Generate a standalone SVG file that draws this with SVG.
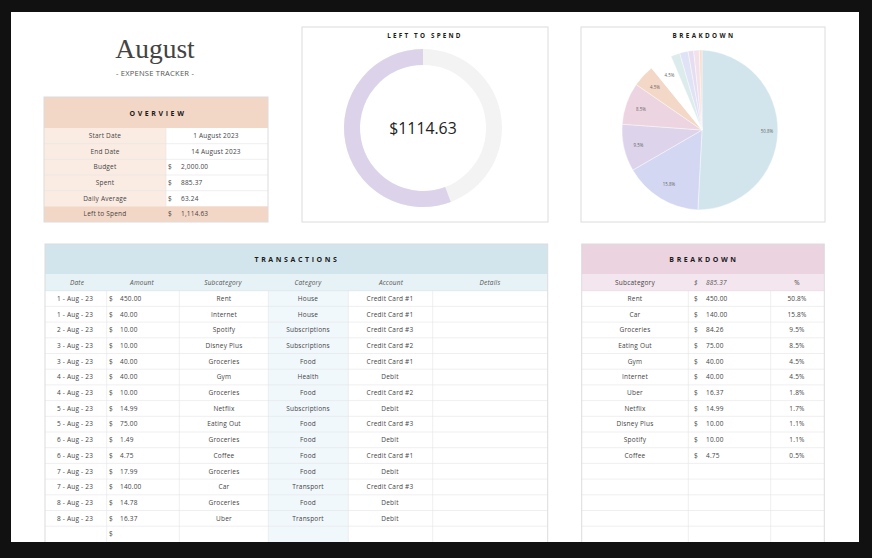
<svg xmlns="http://www.w3.org/2000/svg" width="872" height="558" viewBox="0 0 872 558">
<style>
.t{font-family:"Open Sans","Noto Sans",sans-serif;font-size:6.5px;letter-spacing:0.2px;fill:#444}
.c{text-anchor:middle}
.i{font-style:italic;fill:#555}
.h{font-family:"Open Sans","Noto Sans",sans-serif;font-weight:bold;font-size:7px;letter-spacing:2.6px;fill:#1a1a1a;text-anchor:middle}
.g{stroke:#e4e4e4;stroke-width:0.6;fill:none}
.b{fill:none;stroke:#dcdcdc;stroke-width:1}
.p{font-family:"Open Sans","Noto Sans",sans-serif;font-size:4.4px;fill:#666;text-anchor:middle}
</style>
<rect x="0" y="0" width="872" height="558" fill="#111"/>
<rect x="11" y="12" width="848" height="530" fill="#fff"/>

<g id="title">
<text x="155" y="58" text-anchor="middle" style="font-family:'Liberation Serif','DejaVu Serif',serif;font-size:27.5px;fill:#444">August</text>
<text x="155" y="76" text-anchor="middle" class="t" style="font-size:7.6px;fill:#555">- EXPENSE TRACKER -</text>
</g>

<g id="overview">
<rect x="44" y="97" width="224" height="31" fill="#f3d7c6"/>
<rect x="44" y="128" width="122" height="78.3" fill="#fbece3"/>
<rect x="166" y="128" width="102" height="78.3" fill="#fff"/>
<rect x="44" y="206.3" width="224" height="15.7" fill="#f3d7c6"/>
<g class="g">
<path d="M44 143.7H268M44 159.3H268M44 175H268M44 190.7H268M166 128V206.3"/>
</g>
<rect x="44" y="97" width="224" height="125" class="b"/>
<text x="158" y="115.5" class="h">OVERVIEW</text>
<g class="t">
<text x="105" y="138" class="c">Start Date</text>
<text x="216" y="138" class="c">1 August 2023</text>
<text x="105" y="153.7" class="c">End Date</text>
<text x="216" y="153.7" class="c">14 August 2023</text>
<text x="105" y="169.4" class="c">Budget</text>
<text x="168" y="169.4">$</text><text x="181" y="169.4">2,000.00</text>
<text x="105" y="185" class="c">Spent</text>
<text x="168" y="185">$</text><text x="181" y="185">885.37</text>
<text x="105" y="200.7" class="c">Daily Average</text>
<text x="168" y="200.7">$</text><text x="181" y="200.7">63.24</text>
<text x="105" y="216.4" class="c">Left to Spend</text>
<text x="168" y="216.4">$</text><text x="181" y="216.4">1,114.63</text>
</g>
</g>

<g id="left-to-spend">
<rect x="302" y="27" width="246" height="195" class="b" fill="#fff"/>
<text x="425" y="38" class="h" style="font-size:6.3px;letter-spacing:2.2px">LEFT TO SPEND</text>
<circle cx="423" cy="128" r="71" fill="none" stroke="#f3f3f3" stroke-width="16"/>
<path d="M447.98 194.46A71 71 0 1 1 423 57" fill="none" stroke="#dcd3ea" stroke-width="16"/>
<text x="423" y="134" text-anchor="middle" style="font-family:'Open Sans','Noto Sans',sans-serif;font-size:15.8px;fill:#222">$1114.63</text>
</g>

<g id="breakdown-chart">
<rect x="581" y="27" width="244" height="195" class="b" fill="#fff"/>
<text x="704" y="38" class="h" style="font-size:6.3px;letter-spacing:2.4px">BREAKDOWN</text>
<g stroke="#fff" stroke-width="0.4">
<path d="M702 130L702 50A80 80 0 0 1 697.86 209.89Z" fill="#d3e5ec"/>
<path d="M702 130L697.86 209.89A80 80 0 0 1 632.78 170.12Z" fill="#d4d7f2"/>
<path d="M702 130L632.78 170.12A80 80 0 0 1 622.21 124.2Z" fill="#ddd3ea"/>
<path d="M702 130L622.21 124.2A80 80 0 0 1 636.18 84.51Z" fill="#ecd5e0"/>
<path d="M702 130L636.18 84.51A80 80 0 0 1 651.55 67.91Z" fill="#f3d8c7"/>
<path d="M702 130L651.55 67.91A80 80 0 0 1 670.97 56.26Z" fill="#fff"/>
<path d="M702 130L670.97 56.26A80 80 0 0 1 679.73 53.16Z" fill="#dcecec"/>
<path d="M702 130L679.73 53.16A80 80 0 0 1 688.01 51.23Z" fill="#e0e2f5"/>
<path d="M702 130L688.01 51.23A80 80 0 0 1 693.64 50.44Z" fill="#e6def0"/>
<path d="M702 130L693.64 50.44A80 80 0 0 1 699.31 50.05Z" fill="#f2e1ea"/>
<path d="M702 130L699.31 50.05A80 80 0 0 1 702 50Z" fill="#f7dfcf"/>
</g>
<text x="767" y="133" class="p">50.8%</text>
<text x="669" y="185.5" class="p">15.8%</text>
<text x="638.5" y="146.5" class="p">9.5%</text>
<text x="641" y="110.5" class="p">8.5%</text>
<text x="655" y="88.8" class="p">4.5%</text>
<text x="669.5" y="76.8" class="p">4.5%</text>
</g>

<g id="transactions">
<rect x="45" y="244" width="502.7" height="30" fill="#d3e5ec"/>
<rect x="45" y="274" width="502.7" height="16.7" fill="#e7f2f6"/>
<rect x="268.3" y="290.7" width="80" height="251.3" fill="#f1f8fc"/>
<g class="g">
<path d="M45 306.4H547.7M45 322.1H547.7M45 337.8H547.7M45 353.5H547.7M45 369.2H547.7M45 384.9H547.7M45 400.6H547.7M45 416.3H547.7M45 432H547.7M45 447.7H547.7M45 463.4H547.7M45 479.1H547.7M45 494.8H547.7M45 510.5H547.7M45 526.2H547.7"/>
<path d="M106.7 290.7V542M179.3 290.7V542M268.3 290.7V542M348.3 290.7V542M432.7 290.7V542"/>
</g>
<path d="M45 290.7H547.7" stroke="#dde9ee" stroke-width="1"/>
<rect x="45" y="244" width="502.7" height="310" class="b"/>
<text x="297" y="261.5" class="h">TRANSACTIONS</text>
<g class="t i">
<text x="77" y="284.5" class="c">Date</text>
<text x="142" y="284.5" class="c">Amount</text>
<text x="223" y="284.5" class="c">Subcategory</text>
<text x="308" y="284.5" class="c">Category</text>
<text x="391" y="284.5" class="c">Account</text>
<text x="490" y="284.5" class="c">Details</text>
</g>
<g class="t">
<g class="c">
<text x="75" y="300.8">1 - Aug - 23</text><text x="224" y="300.8">Rent</text><text x="308" y="300.8">House</text><text x="390" y="300.8">Credit Card #1</text>
<text x="75" y="316.5">1 - Aug - 23</text><text x="224" y="316.5">Internet</text><text x="308" y="316.5">House</text><text x="390" y="316.5">Credit Card #1</text>
<text x="75" y="332.2">2 - Aug - 23</text><text x="224" y="332.2">Spotify</text><text x="308" y="332.2">Subscriptions</text><text x="390" y="332.2">Credit Card #3</text>
<text x="75" y="347.9">3 - Aug - 23</text><text x="224" y="347.9">Disney Plus</text><text x="308" y="347.9">Subscriptions</text><text x="390" y="347.9">Credit Card #2</text>
<text x="75" y="363.6">3 - Aug - 23</text><text x="224" y="363.6">Groceries</text><text x="308" y="363.6">Food</text><text x="390" y="363.6">Credit Card #1</text>
<text x="75" y="379.3">4 - Aug - 23</text><text x="224" y="379.3">Gym</text><text x="308" y="379.3">Health</text><text x="390" y="379.3">Debit</text>
<text x="75" y="395">4 - Aug - 23</text><text x="224" y="395">Groceries</text><text x="308" y="395">Food</text><text x="390" y="395">Credit Card #2</text>
<text x="75" y="410.7">5 - Aug - 23</text><text x="224" y="410.7">Netflix</text><text x="308" y="410.7">Subscriptions</text><text x="390" y="410.7">Debit</text>
<text x="75" y="426.4">5 - Aug - 23</text><text x="224" y="426.4">Eating Out</text><text x="308" y="426.4">Food</text><text x="390" y="426.4">Credit Card #3</text>
<text x="75" y="442.1">6 - Aug - 23</text><text x="224" y="442.1">Groceries</text><text x="308" y="442.1">Food</text><text x="390" y="442.1">Debit</text>
<text x="75" y="457.8">6 - Aug - 23</text><text x="224" y="457.8">Coffee</text><text x="308" y="457.8">Food</text><text x="390" y="457.8">Credit Card #1</text>
<text x="75" y="473.5">7 - Aug - 23</text><text x="224" y="473.5">Groceries</text><text x="308" y="473.5">Food</text><text x="390" y="473.5">Debit</text>
<text x="75" y="489.2">7 - Aug - 23</text><text x="224" y="489.2">Car</text><text x="308" y="489.2">Transport</text><text x="390" y="489.2">Credit Card #3</text>
<text x="75" y="504.9">8 - Aug - 23</text><text x="224" y="504.9">Groceries</text><text x="308" y="504.9">Food</text><text x="390" y="504.9">Debit</text>
<text x="75" y="520.6">8 - Aug - 23</text><text x="224" y="520.6">Uber</text><text x="308" y="520.6">Transport</text><text x="390" y="520.6">Debit</text>
</g>
<text x="109" y="300.8">$</text><text x="120" y="300.8">450.00</text>
<text x="109" y="316.5">$</text><text x="120" y="316.5">40.00</text>
<text x="109" y="332.2">$</text><text x="120" y="332.2">10.00</text>
<text x="109" y="347.9">$</text><text x="120" y="347.9">10.00</text>
<text x="109" y="363.6">$</text><text x="120" y="363.6">40.00</text>
<text x="109" y="379.3">$</text><text x="120" y="379.3">40.00</text>
<text x="109" y="395">$</text><text x="120" y="395">10.00</text>
<text x="109" y="410.7">$</text><text x="120" y="410.7">14.99</text>
<text x="109" y="426.4">$</text><text x="120" y="426.4">75.00</text>
<text x="109" y="442.1">$</text><text x="120" y="442.1">1.49</text>
<text x="109" y="457.8">$</text><text x="120" y="457.8">4.75</text>
<text x="109" y="473.5">$</text><text x="120" y="473.5">17.99</text>
<text x="109" y="489.2">$</text><text x="120" y="489.2">140.00</text>
<text x="109" y="504.9">$</text><text x="120" y="504.9">14.78</text>
<text x="109" y="520.6">$</text><text x="120" y="520.6">16.37</text>
<text x="109" y="536.3">$</text>
</g>
</g>

<g id="breakdown-table">
<rect x="581.7" y="244" width="242.6" height="30" fill="#ecd3e0"/>
<rect x="581.7" y="274" width="242.6" height="16.7" fill="#f4e6ee"/>
<g class="g">
<path d="M581.7 306.4H824.3M581.7 322.1H824.3M581.7 337.8H824.3M581.7 353.5H824.3M581.7 369.2H824.3M581.7 384.9H824.3M581.7 400.6H824.3M581.7 416.3H824.3M581.7 432H824.3M581.7 447.7H824.3M581.7 463.4H824.3M581.7 479.1H824.3M581.7 494.8H824.3M581.7 510.5H824.3M581.7 526.2H824.3"/>
<path d="M688.3 290.7V542M770.7 290.7V542"/>
</g>
<path d="M581.7 290.7H824.3" stroke="#efdde7" stroke-width="1"/>
<rect x="581.7" y="244" width="242.6" height="310" class="b"/>
<text x="704" y="261.5" class="h">BREAKDOWN</text>
<g class="t">
<text x="635" y="284.5" class="c">Subcategory</text>
<text x="694" y="284.5" class="i">$</text><text x="706" y="284.5" class="i">885.37</text>
<text x="797" y="284.5" class="c">%</text>
<g class="c">
<text x="635" y="300.8">Rent</text><text x="797" y="300.8">50.8%</text>
<text x="635" y="316.5">Car</text><text x="797" y="316.5">15.8%</text>
<text x="635" y="332.2">Groceries</text><text x="797" y="332.2">9.5%</text>
<text x="635" y="347.9">Eating Out</text><text x="797" y="347.9">8.5%</text>
<text x="635" y="363.6">Gym</text><text x="797" y="363.6">4.5%</text>
<text x="635" y="379.3">Internet</text><text x="797" y="379.3">4.5%</text>
<text x="635" y="395">Uber</text><text x="797" y="395">1.8%</text>
<text x="635" y="410.7">Netflix</text><text x="797" y="410.7">1.7%</text>
<text x="635" y="426.4">Disney Plus</text><text x="797" y="426.4">1.1%</text>
<text x="635" y="442.1">Spotify</text><text x="797" y="442.1">1.1%</text>
<text x="635" y="457.8">Coffee</text><text x="797" y="457.8">0.5%</text>
</g>
<text x="694" y="300.8">$</text><text x="706" y="300.8">450.00</text>
<text x="694" y="316.5">$</text><text x="706" y="316.5">140.00</text>
<text x="694" y="332.2">$</text><text x="706" y="332.2">84.26</text>
<text x="694" y="347.9">$</text><text x="706" y="347.9">75.00</text>
<text x="694" y="363.6">$</text><text x="706" y="363.6">40.00</text>
<text x="694" y="379.3">$</text><text x="706" y="379.3">40.00</text>
<text x="694" y="395">$</text><text x="706" y="395">16.37</text>
<text x="694" y="410.7">$</text><text x="706" y="410.7">14.99</text>
<text x="694" y="426.4">$</text><text x="706" y="426.4">10.00</text>
<text x="694" y="442.1">$</text><text x="706" y="442.1">10.00</text>
<text x="694" y="457.8">$</text><text x="706" y="457.8">4.75</text>
</g>
</g>

<rect x="0" y="542" width="872" height="16" fill="#111"/>
<rect x="859" y="0" width="13" height="558" fill="#111"/>
</svg>
